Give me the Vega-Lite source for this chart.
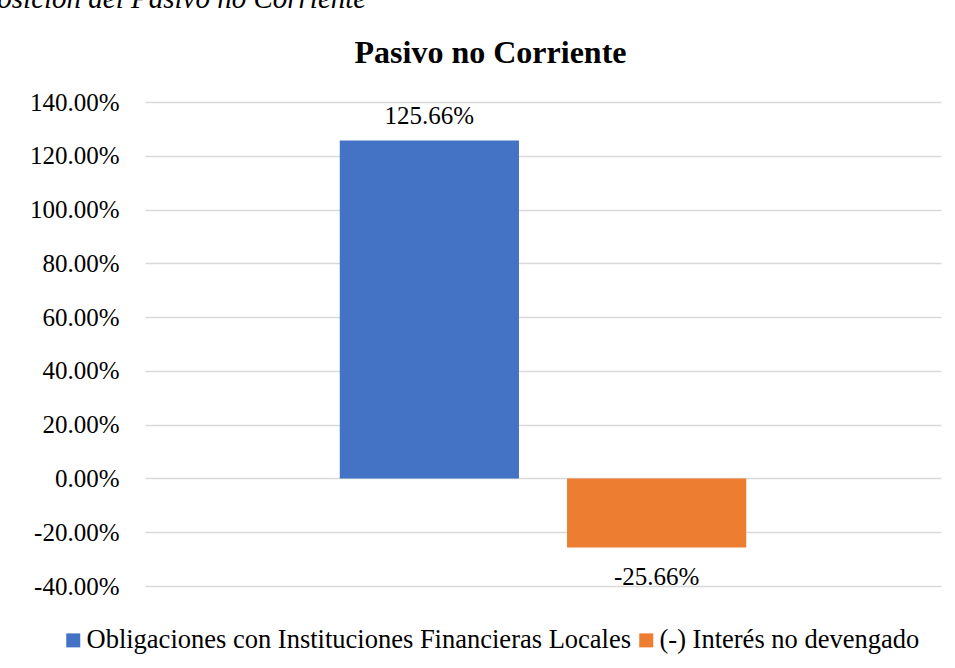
{
  "$schema": "https://vega.github.io/schema/vega-lite/v6.json",
  "width": 796,
  "height": 484,
  "autosize": {"type": "none"},
  "padding": {"left": 145, "top": 102, "right": 14, "bottom": 82},
  "background": "white",
  "config": {
    "font": "Liberation Serif",
    "view": {"stroke": null},
    "text": {"font": "Liberation Serif"},
    "axis": {"labelFont": "Liberation Serif", "titleFont": "Liberation Serif"},
    "legend": {"labelFont": "Liberation Serif", "titleFont": "Liberation Serif"},
    "title": {"font": "Liberation Serif"},
    "locale": {"number": {"decimal": ".", "thousands": ",", "grouping": [3], "currency": ["$", ""], "minus": "-"}}
  },
  "title": {
    "text": "Composición del Pasivo no Corriente",
    "anchor": "start",
    "frame": "group",
    "font": "Liberation Serif",
    "fontStyle": "italic",
    "fontWeight": "normal",
    "fontSize": 29,
    "color": "black",
    "baseline": "alphabetic",
    "offset": -1,
    "dx": -217
  },
  "data": {
    "values": [
      {"serie": "Obligaciones con Instituciones Financieras Locales", "valor": 1.2566},
      {"serie": "(-) Interés no devengado", "valor": -0.2566}
    ]
  },
  "encoding": {
    "x": {
      "field": "serie",
      "type": "nominal",
      "sort": null,
      "scale": {"paddingInner": 0.2115, "paddingOuter": 0.857},
      "axis": {
        "orient": "top",
        "labels": false,
        "ticks": false,
        "domain": false,
        "title": "Pasivo no Corriente",
        "titleFont": "Liberation Serif",
        "titleFontSize": 32,
        "titleFontWeight": "bold",
        "titleColor": "black",
        "titleX": 345,
        "titleY": -40,
        "titleBaseline": "alphabetic",
        "titleAlign": "center"
      }
    },
    "y": {
      "field": "valor",
      "type": "quantitative",
      "scale": {"domain": [-0.4, 1.4], "nice": false},
      "axis": {
        "values": [-0.4, -0.2, 0, 0.2, 0.4, 0.6, 0.8, 1.0, 1.2, 1.4],
        "format": ".2%",
        "title": null,
        "domain": false,
        "ticks": false,
        "labelFont": "Liberation Serif",
        "labelFontSize": 25,
        "labelColor": "black",
        "labelPadding": 26,
        "gridColor": "#d9d9d9",
        "gridWidth": 1.3
      }
    }
  },
  "layer": [
    {
      "mark": {"type": "bar"},
      "encoding": {
        "color": {
          "field": "serie",
          "type": "nominal",
          "sort": null,
          "scale": {"range": ["#4472C4", "#ED7D31"]},
          "legend": {
            "orient": "none",
            "direction": "horizontal",
            "legendX": -85,
            "legendY": 525,
            "title": null,
            "symbolType": "square",
            "symbolSize": 196,
            "symbolStrokeWidth": 0,
            "symbolOpacity": 1,
            "labelFont": "Liberation Serif",
            "labelFontSize": 26.5,
            "labelColor": "black",
            "labelOffset": 0,
            "columnPadding": 1,
            "labelLimit": 0
          }
        }
      }
    },
    {
      "transform": [{"filter": "datum.valor >= 0"}],
      "mark": {"type": "text", "font": "Liberation Serif", "baseline": "alphabetic", "dy": -17, "fontSize": 25, "color": "black"},
      "encoding": {"text": {"field": "valor", "type": "quantitative", "format": ".2%"}}
    },
    {
      "transform": [{"filter": "datum.valor < 0"}],
      "mark": {"type": "text", "font": "Liberation Serif", "baseline": "alphabetic", "dy": 38, "fontSize": 25, "color": "black"},
      "encoding": {"text": {"field": "valor", "type": "quantitative", "format": ".2%"}}
    }
  ]
}
